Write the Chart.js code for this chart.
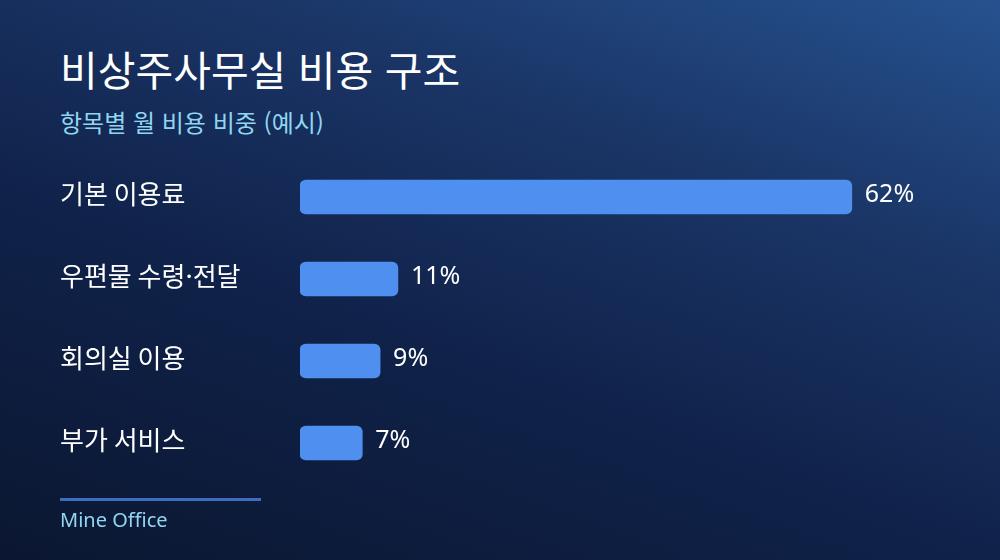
<!DOCTYPE html>
<html lang="ko">
<head>
<meta charset="utf-8">
<script src="https://cdn.jsdelivr.net/npm/chart.js@4/dist/chart.umd.min.js"></script>
<style>
  html, body { margin: 0; padding: 0; }
  body {
    width: 1000px; height: 560px; overflow: hidden; position: relative;
    background: linear-gradient(200deg, #26528f 0%, #1a3566 30%, #10224a 60%, #0b1731 100%);
    font-family: "Noto Sans", "Noto Sans CJK KR", sans-serif;
  }
  #title {
    position: absolute; left: 60px; top: 44px; margin: 0;
    font-family: "Noto Sans CJK KR", sans-serif;
    font-size: 41px; font-weight: 400; color: #ffffff; line-height: 1.2;
  }
  #subtitle {
    position: absolute; left: 60px; top: 108px; margin: 0;
    font-family: "Noto Sans CJK KR", sans-serif;
    font-size: 24px; color: #90d6f2; line-height: 1.2;
  }
  #rule {
    position: absolute; left: 60px; top: 498px; width: 201px; height: 3px;
    background: #3d6cc0;
  }
  #brand {
    position: absolute; left: 60px; top: 508px;
    font-size: 20px; color: #90d6f2; line-height: 1.2;
  }
  #wrap { position: absolute; left: 0; top: 0; width: 1000px; height: 560px; }
</style>
</head>
<body>
<div id="title">비상주사무실 비용 구조</div>
<div id="subtitle">항목별 월 비용 비중 (예시)</div>
<div id="wrap"><canvas id="chart"></canvas></div>
<div id="rule"></div>
<div id="brand">Mine Office</div>
<script>
const categories = ["기본 이용료", "우편물 수령·전달", "회의실 이용", "부가 서비스"];
const shares = [62, 11, 9, 7];
const xMax = 70;

const barColor = "#4f8ff0";

// value text to the right of each bar
const valueLabels = {
    id: "valueLabels",
    afterDatasetsDraw(chart) {
        const ctx = chart.ctx;
        const meta = chart.getDatasetMeta(0);
        ctx.save();
        ctx.font = "25px 'Noto Sans', 'Noto Sans CJK KR', sans-serif";
        ctx.fillStyle = "#ffffff";
        ctx.textAlign = "left";
        ctx.textBaseline = "middle";
        meta.data.forEach((bar, i) => {
            ctx.fillText(shares[i] + "%", bar.x + 13, bar.y - 2);
        });
        ctx.restore();
    }
};

new Chart(document.getElementById("chart"), {
    type: "bar",
    data: {
        labels: categories,
        datasets: [{
            data: shares,
            backgroundColor: barColor,
            borderRadius: 6,
            borderSkipped: false,
            barThickness: 34
        }]
    },
    options: {
        indexAxis: "y",
        responsive: true,
        maintainAspectRatio: false,
        animation: false,
        layout: { padding: { left: 60, right: 77, top: 156, bottom: 76 } },
        plugins: {
            legend: { display: false },
            tooltip: { enabled: false }
        },
        scales: {
            x: {
                display: false,
                min: 0,
                max: xMax
            },
            y: {
                grid: { display: false },
                border: { display: false },
                afterFit(scale) { scale.width = 240; },
                ticks: {
                    crossAlign: "far",
                    color: "#ffffff",
                    labelOffset: -3,
                    font: { family: "'Noto Sans CJK KR', sans-serif", size: 26 }
                }
            }
        }
    },
    plugins: [valueLabels]
});
</script>
</body>
</html>
